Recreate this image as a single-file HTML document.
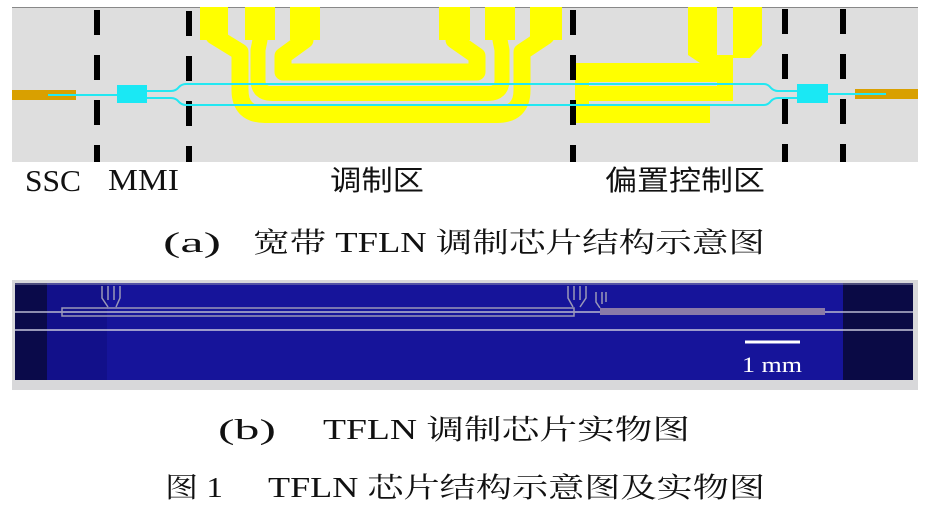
<!DOCTYPE html>
<html><head><meta charset="utf-8"><style>
html,body{margin:0;padding:0;background:#fff;}
svg{display:block;}
text{font-family:"Liberation Serif","Noto Serif CJK SC",serif;fill:#111;}
.cjk{font-family:"Liberation Sans","Noto Sans CJK SC",sans-serif;}
</style></head><body>
<svg width="930" height="508" viewBox="0 0 930 508" xmlns="http://www.w3.org/2000/svg">
<rect x="12" y="7" width="906" height="155" fill="#dedede"/>
<line x1="12" y1="7.5" x2="918" y2="7.5" stroke="#888" stroke-width="1"/>
<g fill="#ffff00">
<rect x="200" y="7" width="28" height="33"/><rect x="245" y="7" width="30" height="33"/><rect x="290" y="7" width="30" height="33"/>
<rect x="439" y="7" width="31" height="33"/><rect x="485" y="7" width="30" height="33"/><rect x="530" y="7" width="32" height="33"/>
</g>
<g fill="none" stroke="#ffff00" stroke-linejoin="round">
<path d="M305,30 V40 L283,56 V72 H477 V56 L454,40 V30" stroke-width="17"/>
<path d="M260,30 V40 L258,50 V80 Q258,93.5 272,93.5 H488 Q502,93.5 502,80 V50 L500,40 V30" stroke-width="15"/>
<path d="M214,30 V36 L240,52 V90 Q240,114.5 265,114.5 H497 Q522,114.5 522,90 V52 L546,36 V30" stroke-width="17"/>
</g>
<g fill="#ffff00">
<rect x="575" y="63" width="142" height="19"/>
<rect x="688" y="7" width="29" height="38"/>
<polygon points="688,45 717,45 717,63 700,63 688,55"/>
<rect x="733" y="7" width="29" height="38"/>
<polygon points="733,45 762,45 750,58 733,58"/>
<rect x="717" y="55" width="16" height="45"/>
<rect x="588" y="86" width="145" height="15"/>
<rect x="575" y="63" width="14" height="60"/>
<rect x="575" y="106" width="135" height="17"/>
</g>
<g stroke="#000" stroke-width="6" stroke-dasharray="25,20">
<line x1="97" y1="10" x2="97" y2="162"/>
<line x1="189" y1="11" x2="189" y2="162"/>
<line x1="573" y1="10" x2="573" y2="162"/>
<line x1="785" y1="9" x2="785" y2="162"/>
<line x1="843" y1="9" x2="843" y2="162"/>
</g>
<rect x="12" y="90" width="64" height="10" fill="#d9a000"/>
<rect x="855" y="89" width="63" height="10" fill="#d9a000"/>
<g fill="none" stroke="#22e8f2" stroke-width="2">
<line x1="48" y1="95" x2="118" y2="95"/>
<line x1="828" y1="94" x2="886" y2="94"/>
<path d="M147,91 H171 Q176,91 179,87 Q182,84 186,84 H764 Q768,84 771,88 Q774,91 778,91 H798"/>
<path d="M147,98 H171 Q176,98 179,102 Q182,105 186,105 H764 Q768,105 771,101 Q774,98 778,98 H798"/>
</g>
<rect x="117" y="85" width="30" height="18" fill="#1ae8f4"/>
<rect x="797" y="84" width="31" height="19" fill="#1ae8f4"/>
<text x="25" y="191" font-size="31" textLength="56" lengthAdjust="spacingAndGlyphs">SSC</text>
<text x="108" y="190" font-size="31" textLength="71" lengthAdjust="spacingAndGlyphs">MMI</text>
<text class="cjk" x="330" y="190" font-size="28" textLength="94" lengthAdjust="spacingAndGlyphs">调制区</text>
<text class="cjk" x="605" y="190" font-size="28" textLength="160" lengthAdjust="spacingAndGlyphs">偏置控制区</text>
<text x="163" y="252" font-size="28" textLength="58" lengthAdjust="spacingAndGlyphs">(a)</text>
<text x="253" y="252" font-size="28" textLength="512" lengthAdjust="spacingAndGlyphs">宽带 TFLN 调制芯片结构示意图</text>
<rect x="12" y="280" width="906" height="110" fill="#d8d8da"/>
<rect x="15" y="283" width="898" height="97" fill="#16149a"/>
<rect x="15" y="283" width="32" height="97" fill="#0a0a4a"/>
<rect x="843" y="283" width="70" height="97" fill="#0a0a45"/>
<rect x="47" y="283" width="60" height="97" fill="#12108a"/>
<line x1="15" y1="312" x2="913" y2="312" stroke="#b8b8d0" stroke-width="1.5"/>
<line x1="15" y1="330" x2="913" y2="330" stroke="#c8c8dc" stroke-width="1.5"/>
<line x1="15" y1="284" x2="913" y2="284" stroke="#9090b0" stroke-width="1"/>
<rect x="62" y="308" width="512" height="8" fill="none" stroke="#9a98b8" stroke-width="1.5"/>
<rect x="600" y="308" width="225" height="7" fill="#8a7aa8"/>
<g stroke="#9a98b8" stroke-width="1.5" fill="none">
<path d="M102,286 V298 L108,307 M108,286 V300 M114,286 V300 M120,286 V298 L116,307"/>
<path d="M568,286 V298 L573,307 M574,286 V300 M580,286 V300 M586,286 V298 L580,307"/>
<path d="M596,292 V302 L600,308 M602,292 V304 M606,292 V302"/>
</g>
<line x1="745" y1="342" x2="800" y2="342" stroke="#fff" stroke-width="3"/>
<text x="742" y="372" font-size="22" style="fill:#fff" textLength="60" lengthAdjust="spacingAndGlyphs">1 mm</text>
<text x="218" y="439" font-size="28" textLength="58" lengthAdjust="spacingAndGlyphs">(b)</text>
<text x="323" y="439" font-size="28" textLength="367" lengthAdjust="spacingAndGlyphs">TFLN 调制芯片实物图</text>
<text x="165" y="497" font-size="28" textLength="58" lengthAdjust="spacingAndGlyphs">图 1</text>
<text x="268" y="497" font-size="28" textLength="497" lengthAdjust="spacingAndGlyphs">TFLN 芯片结构示意图及实物图</text>
</svg>
</body></html>
